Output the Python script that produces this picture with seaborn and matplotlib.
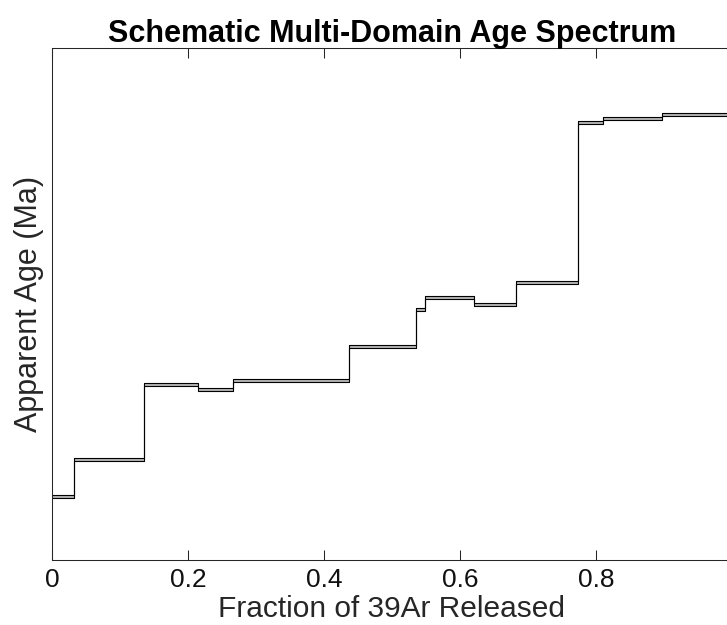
import matplotlib
matplotlib.use("Agg")
import matplotlib.pyplot as plt
import numpy as np
import pandas as pd
import seaborn as sns

# Cumulative fraction of 39Ar at the start of each heating step (last entry closes the spectrum)
fraction_edges = [0.0, 0.032, 0.135, 0.215, 0.266, 0.437, 0.535, 0.549,
                  0.621, 0.682, 0.774, 0.810, 0.897, 1.0]
# Apparent age of each step (Ma)
step_ages = [12.4, 19.6, 34.2, 33.3, 35.1, 41.6, 48.8, 51.2, 49.9, 54.1,
             85.3, 86.2, 87.0]
# Half-thickness of each step box (Ma)
step_err = [0.3] * len(step_ages)
x_ticks = [0, 0.2, 0.4, 0.6, 0.8]
x_tick_labels = ["0", "0.2", "0.4", "0.6", "0.8"]

sns.set_style("white")
plt.rcParams["font.family"] = ["Liberation Sans", "DejaVu Sans"]

ages = np.array(step_ages + [step_ages[-1]])
errs = np.array(step_err + [step_err[-1]])
df = pd.DataFrame({"fraction": fraction_edges,
                   "upper": ages + errs,
                   "lower": ages - errs})

fig = plt.figure(figsize=(7.27, 6.25), dpi=100)
ax = fig.add_axes([52 / 727, 65 / 625, 680 / 727, 512.5 / 625])

ax.fill_between(df["fraction"], df["lower"], df["upper"], step="post",
                color="#b5b5b5", linewidth=0)
for col in ["upper", "lower"]:
    sns.lineplot(data=df, x="fraction", y=col, ax=ax, drawstyle="steps-post",
                 color="black", linewidth=0.8, estimator=None, sort=False)

ax.set_xlim(0, 1)
ax.set_ylim(0, 100)
ax.set_xticks(x_ticks)
ax.set_xticklabels(x_tick_labels)
ax.set_yticks([])
ax.tick_params(axis="x", direction="in", length=7, width=0.75, color="#262626",
               labelsize=19, labelcolor="#111111", top=True, bottom=True, pad=6)
for side in ["left", "top", "bottom", "right"]:
    ax.spines[side].set_color("#262626")
    ax.spines[side].set_linewidth(0.75)

ax.set_xlabel("Fraction of 39Ar Released", fontsize=21.5, color="#262626", labelpad=2)
ax.set_ylabel("Apparent Age (Ma)", fontsize=22, color="#262626", labelpad=6)
ax.set_title("Schematic Multi-Domain Age Spectrum", fontsize=22,
             fontweight="bold", color="black", pad=4)

fig.savefig("out.png", dpi=100)
